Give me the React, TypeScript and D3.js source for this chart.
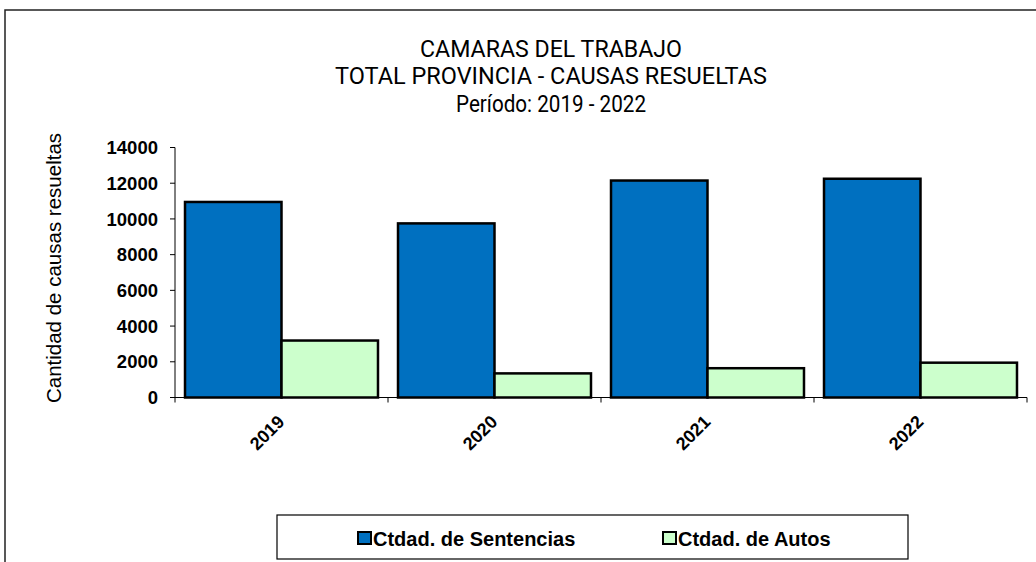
import React from "react";
import * as d3 from "d3";

const years = ["2019", "2020", "2021", "2022"];
const sentencias = [10950, 9750, 12150, 12250];
const autos = [3190, 1350, 1640, 1950];
const seriesNames = ["Ctdad. de Sentencias", "Ctdad. de Autos"];
const seriesColors = ["#0070C0", "#CCFFCC"];
const yTicks = [0, 2000, 4000, 6000, 8000, 10000, 12000, 14000];
const titleLines = [
  "CAMARAS DEL TRABAJO",
  "TOTAL PROVINCIA - CAUSAS RESUELTAS",
  "Período: 2019 - 2022",
];
const titleWidths = [262, 432, 190];

const W = 1036;
const H = 562;
const plot = { left: 175, right: 1027, top: 147.5, bottom: 397.5 };

const App = () => {
  const x = d3
    .scaleBand()
    .domain(years)
    .range([plot.left, plot.right])
    .paddingInner(0.094)
    .paddingOuter(0.047);

  const inner = d3.scaleBand().domain(["0", "1"]).range([0, x.bandwidth()]);

  const y = d3.scaleLinear().domain([0, 14000]).range([plot.bottom, plot.top]);

  const series = [sentencias, autos];

  // category tick marks between the groups
  const step = x.step();
  const catTicks = d3.range(years.length + 1).map((i) => plot.left + i * step);

  const arial = "Arial, 'Liberation Sans', sans-serif";
  const legendX = [357, 662];

  return (
    <svg
      width={W}
      height={H}
      style={{ position: "absolute", left: 0, top: 0, background: "#fff" }}
    >
      {/* outer frame */}
      <rect x={5} y={10} width={W + 10} height={H + 10} fill="#fff" stroke="#222" strokeWidth={1.5} />

      {/* title */}
      <g fontFamily="Roboto, 'Noto Sans', sans-serif" fontSize={23} textAnchor="middle" fill="#000">
        {titleLines.map((t, i) => (
          <text
            key={t}
            x={551}
            y={57 + i * 27.3}
            textLength={titleWidths[i]}
            lengthAdjust="spacingAndGlyphs"
          >
            {t}
          </text>
        ))}
      </g>

      {/* y axis title */}
      <text
        transform={`translate(61, 268) rotate(-90)`}
        textAnchor="middle"
        fontFamily={arial}
        fontSize={20.5}
      >
        Cantidad de causas resueltas
      </text>

      {/* bars */}
      {years.map((yr, i) => (
        <g key={yr} transform={`translate(${x(yr)},0)`}>
          {series.map((s, j) => (
            <rect
              key={j}
              x={inner(String(j))}
              y={y(s[i])}
              width={inner.bandwidth()}
              height={y(0) - y(s[i])}
              fill={seriesColors[j]}
              stroke="#000"
              strokeWidth={2.5}
            />
          ))}
        </g>
      ))}

      {/* y axis */}
      <line x1={plot.left} x2={plot.left} y1={plot.top} y2={plot.bottom} stroke="#000" strokeWidth={1} />
      {yTicks.map((t) => (
        <g key={t}>
          <line x1={plot.left - 5} x2={plot.left} y1={y(t)} y2={y(t)} stroke="#000" />
          <text
            x={158}
            y={y(t)}
            dy="0.36em"
            textAnchor="end"
            fontFamily={arial}
            fontWeight="bold"
            fontSize={18.5}
          >
            {t}
          </text>
        </g>
      ))}

      {/* x axis */}
      <line x1={plot.left - 5} x2={plot.right} y1={plot.bottom} y2={plot.bottom} stroke="#000" strokeWidth={1} />
      {catTicks.map((t, i) => (
        <line key={i} x1={t} x2={t} y1={plot.bottom} y2={plot.bottom + 5} stroke="#000" />
      ))}
      {years.map((yr) => (
        <text
          key={yr}
          transform={`translate(${(x(yr) as number) + x.bandwidth() / 2 + 4}, 423) rotate(-45)`}
          textAnchor="end"
          fontFamily={arial}
          fontWeight="bold"
          fontSize={18}
        >
          {yr}
        </text>
      ))}

      {/* legend */}
      <rect x={277} y={515} width={631} height={44} fill="#fff" stroke="#000" strokeWidth={1.2} />
      {seriesNames.map((n, j) => (
        <g key={n} transform={`translate(${legendX[j]}, 0)`}>
          <rect x={1} y={532} width={13} height={12} fill={seriesColors[j]} stroke="#000" strokeWidth={2} />
          <text x={16} y={545.5} fontFamily={arial} fontWeight="bold" fontSize={20}>
            {n}
          </text>
        </g>
      ))}
    </svg>
  );
};

export default App;
